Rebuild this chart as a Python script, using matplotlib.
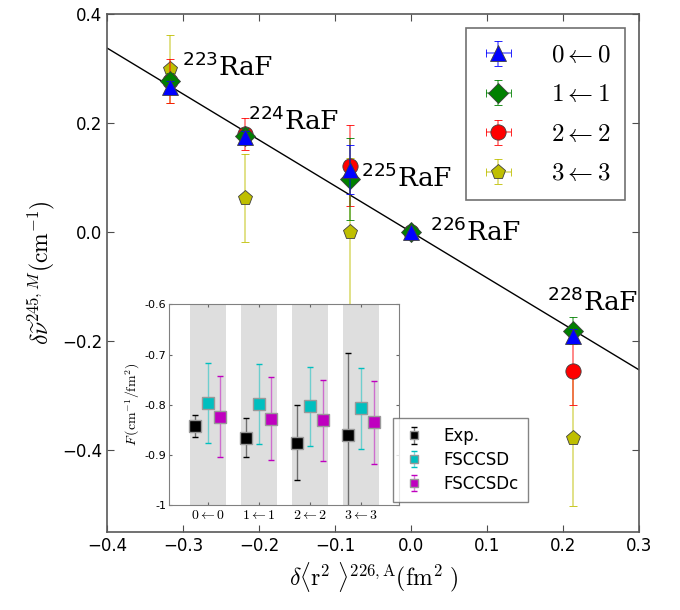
import matplotlib
matplotlib.use('Agg')
import matplotlib.pyplot as plt
import numpy as np

plt.rcParams['mathtext.fontset'] = 'cm'
plt.rcParams['xtick.direction'] = 'in'
plt.rcParams['ytick.direction'] = 'in'

# main panel data
dr2 = [-0.317, -0.219, -0.081, 0.0, 0.2125]
isotopes = ['223', '224', '225', '226', '228']
labels = [r'$0\leftarrow0$', r'$1\leftarrow1$', r'$2\leftarrow2$', r'$3\leftarrow3$']
shift_00 = [0.266, 0.174, 0.114, 0.0, -0.190]
err_00 = [0.012, 0.012, 0.045, 0.002, 0.012]
shift_11 = [0.277, 0.177, 0.098, 0.0, -0.181]
err_11 = [0.014, 0.014, 0.075, 0.002, 0.025]
shift_22 = [0.277, 0.180, 0.122, 0.0, -0.255]
err_22 = [0.040, 0.030, 0.075, 0.002, 0.062]
shift_33 = [0.299, 0.063, 0.0, 0.0, -0.378]
err_33 = [0.062, 0.081, 0.135, 0.002, 0.124]
slope = -0.843

# inset data
groups = [r'$0\leftarrow0$', r'$1\leftarrow1$', r'$2\leftarrow2$', r'$3\leftarrow3$']
F_exp = [-0.843, -0.866, -0.876, -0.860]
F_exp_err = [0.022, 0.039, 0.075, 0.164]
F_sd = [-0.797, -0.799, -0.803, -0.807]
F_sd_err = [0.080, 0.080, 0.079, 0.081]
F_sdc = [-0.824, -0.828, -0.831, -0.835]
F_sdc_err = [0.081, 0.083, 0.081, 0.083]

fig = plt.figure(figsize=(6.8, 6.1), dpi=100)
ax = fig.add_axes([0.158, 0.128, 0.782, 0.849])

xx = np.array([-0.4, 0.3])
ax.plot(xx, slope * xx, 'k-', lw=1)

styles = [('b', '^', 11), ('g', 'D', 10), ('r', 'o', 11), ('y', 'p', 11)]
series = [(shift_00, err_00), (shift_11, err_11), (shift_22, err_22), (shift_33, err_33)]
for k in [3, 2, 1, 0]:
    c, m, ms = styles[k]
    y, e = series[k]
    ax.errorbar(dr2, y, yerr=e, xerr=[0.0] * len(dr2), fmt=m, color=c, mfc=c, mec='0.25',
                mew=0.6, ms=ms, ecolor=c, elinewidth=1.2, capsize=3, alpha=1,
                label=labels[k], zorder=3 + (3 - k))
# lighten the error bars
for coll in ax.collections:
    coll.set_alpha(0.55)

lab_pos = [(-0.302, 0.304), (-0.215, 0.204), (-0.066, 0.100), (0.024, 0.0), (0.178, -0.128)]
for iso, (px, py) in zip(isotopes, lab_pos):
    ax.text(px, py, r'$^{%s}$RaF' % iso, fontsize=19, family='DejaVu Serif',
            math_fontfamily='dejavusans', va='center', ha='left', zorder=10)

ax.set_xlim(-0.4, 0.3)
ax.set_ylim(-0.55, 0.4)
ax.set_xticks(np.arange(-0.4, 0.31, 0.1))
ax.set_yticks([-0.4, -0.2, 0.0, 0.2, 0.4])
ax.tick_params(labelsize=12, top=True, right=True, length=5, width=0.8, color='0.3')
for s in ax.spines.values():
    s.set_color('0.35')
    s.set_linewidth(1.2)
ax.set_xlabel(r'$\delta\langle\mathrm{r}^2\ \rangle^{226,\mathrm{A}}(\mathrm{fm}^2\ )$', fontsize=17)
ax.set_ylabel(r'$\delta\widetilde{\nu}^{245,M}(\mathrm{cm}^{-1})$', fontsize=17)

h, l = ax.get_legend_handles_labels()
order = [l.index(s) for s in labels]
leg = ax.legend([h[i] for i in order], [l[i] for i in order], loc='upper right',
                fontsize=18, numpoints=1, fancybox=False, borderaxespad=0.55,
                handlelength=1.4, handletextpad=1.4, labelspacing=0.62, borderpad=0.6)
leg.get_frame().set_edgecolor('0.3')
leg.get_frame().set_linewidth(1.2)

# inset
ins = fig.add_axes([0.249, 0.172, 0.338, 0.329])
xs = np.arange(1, 5)
for x0 in xs:
    ins.axvspan(x0 - 0.35, x0 + 0.35, color='0.87', lw=0, zorder=0)
ins.errorbar(xs - 0.25, F_exp, yerr=F_exp_err, fmt='s', color='k', ms=8, mec='0.6',
             ecolor='k', elinewidth=1, capsize=2, label='Exp.')
ins.errorbar(xs, F_sd, yerr=F_sd_err, fmt='s', color='c', ms=8, mec='0.6',
             ecolor='c', elinewidth=1, capsize=2, label='FSCCSD')
ins.errorbar(xs + 0.25, F_sdc, yerr=F_sdc_err, fmt='s', color='m', ms=8, mec='0.6',
             ecolor='m', elinewidth=1, capsize=2, label='FSCCSDc')
for coll in ins.collections:
    coll.set_alpha(0.5)
ins.set_xlim(0.25, 4.75)
ins.set_ylim(-1.0, -0.6)
ins.set_xticks(xs)
ins.set_xticklabels(groups, fontsize=10)
ins.set_yticks([-1.0, -0.9, -0.8, -0.7, -0.6])
ins.set_yticklabels(['-1', '-0.9', '-0.8', '-0.7', '-0.6'], fontsize=8)
ins.tick_params(top=True, right=True, length=2, color='0.4', pad=2)
for s in ins.spines.values():
    s.set_color('0.5')
ins.set_ylabel(r'$F\,(\mathrm{cm}^{-1}/\mathrm{fm}^2)$', fontsize=10, labelpad=2)
il = ins.legend(loc='center left', bbox_to_anchor=(0.935, 0.225), fontsize=12, numpoints=1,
                fancybox=False, markerscale=0.8, handlelength=1.5, handletextpad=1.0,
                borderpad=0.55, labelspacing=0.35)
il.get_frame().set_edgecolor('0.4')
il.set_zorder(20)

fig.savefig('out.png', dpi=100)
